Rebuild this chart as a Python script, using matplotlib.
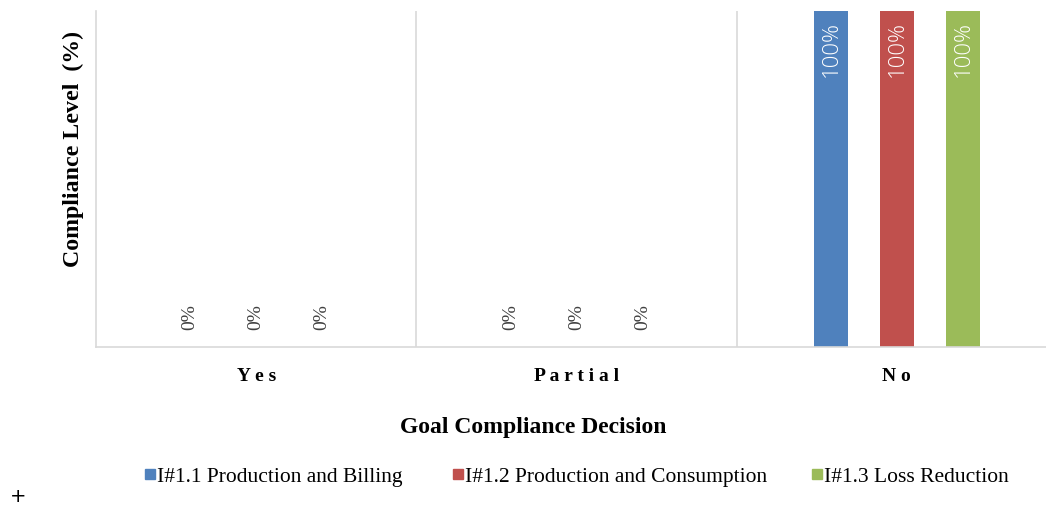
import matplotlib.pyplot as plt
import numpy as np
from matplotlib.patches import Rectangle

categories = ["Yes", "Partial", "No"]
series = [
    "I#1.1 Production and Billing",
    "I#1.2 Production and Consumption",
    "I#1.3 Loss Reduction",
]
values = [
    [0, 0, 100],
    [0, 0, 100],
    [0, 0, 100],
]
colors = ["#4F81BD", "#C0504D", "#9BBB59"]

plt.rcParams['font.family'] = ['Liberation Serif', 'DejaVu Serif']

W, H = 1046, 508
fig = plt.figure(figsize=(W / 100, H / 100), dpi=100)
ax = fig.add_axes([96 / W, 1 - 347 / H, (1057 - 96) / W, (347 - 11) / H])

x = np.arange(len(categories))
width = 0.106
offset = 0.206
for i, (name, vals, c) in enumerate(zip(series, values, colors)):
    pos = x + (i - 1) * offset
    ax.bar(pos, vals, width=width, color=c, label=name)
    for px, v in zip(pos, vals):
        if v > 0:
            ax.text(px, v - 3, f"{v}%", rotation=90, ha='center', va='top',
                    color='white', fontsize=16, family=['Open Sans', 'DejaVu Sans'],
                    fontweight='light')
        else:
            ax.text(px, v + 5, f"{v}%", rotation=90, ha='center', va='bottom',
                    color='#404040', fontsize=14)

ax.set_xlim(-0.5, len(categories) - 0.5)
ax.set_ylim(0, 100)
ax.set_yticks([])
ax.set_xticks(x)
ax.set_xticklabels([" ".join(c) for c in categories], fontsize=14, fontweight='bold')
ax.tick_params(axis='x', length=0, pad=15)

# category separators
for b in x[:-1] + 0.5:
    ax.axvline(b, color='#D9D9D9', lw=1.2)
for s in ['top', 'right']:
    ax.spines[s].set_visible(False)
for s in ['left', 'bottom']:
    ax.spines[s].set_color('#D9D9D9')
    ax.spines[s].set_linewidth(1.2)

fig.text(73 / W, 1 - 149 / H, "Compliance Level  (%)", rotation=90,
         ha='center', va='center', fontsize=17.2, fontweight='bold')
fig.text(533 / W, 1 - 427 / H, "Goal Compliance Decision",
         ha='center', va='center', fontsize=17, fontweight='bold')

# legend row, drawn by hand so the entries share one baseline
leg_x = [145, 453, 812]
for name, c, lx in zip(series, colors, leg_x):
    fig.patches.append(Rectangle((lx / W, 1 - 479 / H), 10 / W, 10 / H,
                                 transform=fig.transFigure, color=c))
    fig.text((lx + 12) / W, 1 - 482 / H, name, va='baseline', ha='left', fontsize=15.5)

fig.text(18 / W, 1 - 497 / H, "+", ha='center', va='center', fontsize=14,
         family='DejaVu Sans')

fig.savefig("out.png", dpi=100)
